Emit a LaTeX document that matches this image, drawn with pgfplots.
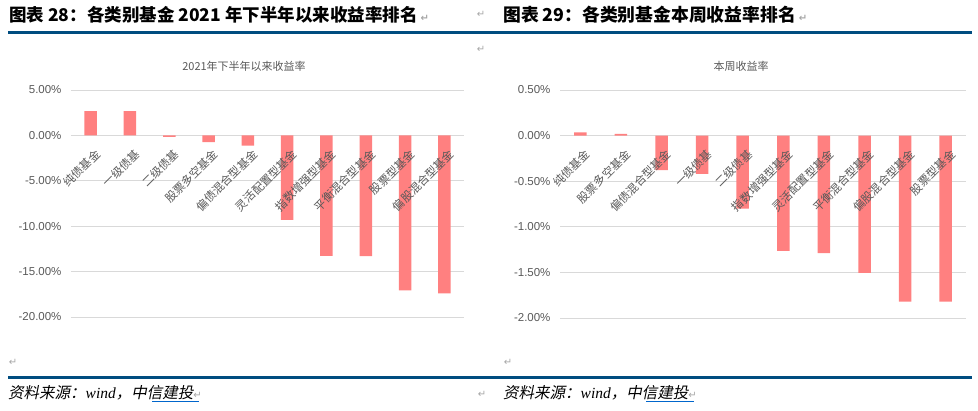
\documentclass[border=0pt]{standalone}
\usepackage{pgfplots}
\pgfplotsset{compat=1.18}
\usepackage{fontspec}
\setmainfont{Liberation Sans}
\newfontfamily\cjk{Noto Sans CJK SC}
\newfontfamily\cjkit{Noto Sans CJK SC}[FakeSlant=0.2]
\newfontfamily\serifit{Liberation Serif}
\newfontfamily\sym{DejaVu Sans}
\definecolor{barred}{RGB}{255,128,128}
\definecolor{gridgray}{RGB}{217,217,217}
\definecolor{ticktext}{RGB}{89,89,89}
\definecolor{rulebl}{RGB}{0,77,128}
\definecolor{linkbl}{RGB}{0,102,204}
\newcommand{\ret}{{\sym\fontsize{10}{10}\selectfont\color{black!35}↵}}
\pgfplotsset{
 fundbar/.style={
  scale only axis, anchor=south west,
  xmin=-0.5, xmax=9.5,
  axis x line=middle, axis y line=left,
  x axis line style={draw=gridgray, line width=1.2pt, -},
  y axis line style={draw=none},
  major tick length=0pt,
  ymajorgrids, grid style={gridgray, line width=0.8pt},
  xtick={0,...,9},
  xticklabel style={font=\cjk\fontsize{11.5}{13}\selectfont, text=ticktext, rotate=45, anchor=east, yshift=-17pt, xshift=-3pt},
  yticklabel style={font=\fontsize{11.5}{13}\selectfont, text=ticktext, xshift=-6pt},
  hide obscured x ticks=false, hide obscured y ticks=false,
  ybar, bar width=12.5pt,
  clip=false,
 },
 labelsonly/.style={
  ymajorgrids=false, ytick=\empty,
  x axis line style={draw=none},
 }
}
\begin{document}
\begin{tikzpicture}[x=1pt,y=1pt]
\path[use as bounding box] (0,0) rectangle (978,411);
% headers
\node[anchor=west, inner sep=0] at (9,396) {\cjk\bfseries\fontsize{17.5}{20}\selectfont 图表 28：各类别基金 2021 年下半年以来收益率排名\,\ret};
\node[anchor=west, inner sep=0] at (503,396) {\cjk\bfseries\fontsize{17.8}{20}\selectfont 图表 29：各类别基金本周收益率排名\,\ret};
\node[anchor=center, inner sep=0] at (481,397) {\ret};
\node[anchor=center, inner sep=0] at (481,362) {\ret};
\draw[rulebl, line width=2.5pt] (8,378.7) -- (972,378.7);
\draw[rulebl, line width=2.5pt] (8,33.3) -- (972,33.3);
% chart titles
\node[inner sep=0, text=ticktext] at (244,344.3) {\cjk\fontsize{11}{13}\selectfont 2021年下半年以来收益率};
\node[inner sep=0, text=ticktext] at (741,344.3) {\cjk\fontsize{11}{13}\selectfont 本周收益率};
% left chart: grid and bars
\begin{axis}[fundbar, at={(71pt,94pt)}, width=393pt, height=227pt,
  ymin=-20, ymax=5,
  ytick={-20,-15,-10,-5,0,5},
  yticklabels={-20.00\%,-15.00\%,-10.00\%,-5.00\%,0.00\%,5.00\%},
  xticklabels={}]
\addplot[fill=barred, draw=none] coordinates {(0,2.68) (1,2.66) (2,-0.15) (3,-0.74) (4,-1.14) (5,-9.30) (6,-13.28) (7,-13.30) (8,-17.07) (9,-17.40)};
\end{axis}
% left chart: category labels on top
\begin{axis}[fundbar, labelsonly, at={(71pt,94pt)}, width=393pt, height=227pt,
  ymin=-20, ymax=5,
  xticklabels={纯债基金,一级债基,二级债基,股票多空基金,偏债混合型基金,灵活配置型基金,指数增强型基金,平衡混合型基金,股票型基金,偏股混合型基金}]
\end{axis}
% right chart: grid and bars
\begin{axis}[fundbar, at={(560pt,93pt)}, width=406pt, height=228pt,
  ymin=-2, ymax=0.5,
  ytick={-2,-1.5,-1,-0.5,0,0.5},
  yticklabels={-2.00\%,-1.50\%,-1.00\%,-0.50\%,0.00\%,0.50\%},
  xticklabels={}]
\addplot[fill=barred, draw=none] coordinates {(0,0.036) (1,0.018) (2,-0.38) (3,-0.42) (4,-0.80) (5,-1.264) (6,-1.29) (7,-1.505) (8,-1.82) (9,-1.82)};
\end{axis}
% right chart: category labels on top
\begin{axis}[fundbar, labelsonly, at={(560pt,93pt)}, width=406pt, height=228pt,
  ymin=-2, ymax=0.5,
  xticklabels={纯债基金,股票多空基金,偏债混合型基金,一级债基,二级债基,指数增强型基金,灵活配置型基金,平衡混合型基金,偏股混合型基金,股票型基金}]
\end{axis}
% paragraph marks
\node[inner sep=0] at (13,49) {\ret};
\node[inner sep=0] at (508,49) {\ret};
% sources
\node[anchor=west, inner sep=0] at (8,18) {\cjkit\fontsize{15.5}{18}\selectfont 资料来源：{\serifit\itshape wind}，中信建投\ret};
\node[anchor=west, inner sep=0] at (503,18) {\cjkit\fontsize{15.5}{18}\selectfont 资料来源：{\serifit\itshape wind}，中信建投\ret};
\node[inner sep=0] at (482,17) {\ret};
\draw[linkbl, line width=1pt] (152,9) -- (199,9);
\draw[linkbl, line width=1pt] (646,9) -- (694,9);
\end{tikzpicture}
\end{document}
